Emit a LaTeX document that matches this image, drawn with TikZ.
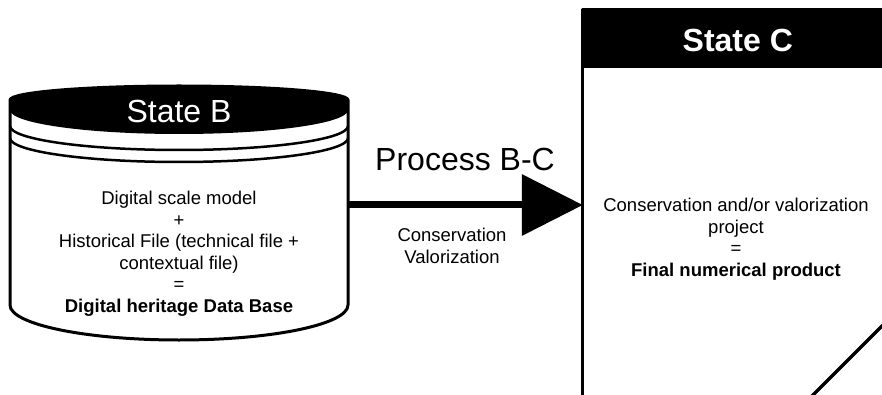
\documentclass[tikz,border=0pt]{standalone}
\usepackage{fontspec}
\setmainfont{Liberation Sans}
\usetikzlibrary{arrows.meta}
\tikzset{
  bodytxt/.style={align=center, inner sep=0pt, font=\fontsize{18.5}{21.5}\selectfont},
  titletxt/.style={inner sep=0pt, font=\fontsize{32}{36}\selectfont},
  outl/.style={line width=3pt, line join=round},
  band/.style={line width=2.5pt},
}
\begin{document}
\begin{tikzpicture}[x=1pt,y=-1pt]
\clip (0,0) rectangle (882,395);
% invisible frames used as anchors
\node[minimum width=338pt, minimum height=240pt, inner sep=0pt] (cylB) at (179,205) {};
\node[minimum width=307pt, minimum height=390pt, inner sep=0pt] (boxC) at (736.5,205) {};
% cylinder (State B)
\fill[black] (10,100) arc[start angle=180, end angle=0, x radius=169pt, y radius=14pt]
  -- (348,110) arc[start angle=0, end angle=-180, x radius=169pt, y radius=24pt] -- cycle;
\draw[band] (10,126) arc[start angle=180, end angle=360, x radius=169pt, y radius=24pt];
\draw[band] (10,138) arc[start angle=180, end angle=360, x radius=169pt, y radius=24pt];
\draw[outl] (348,100) arc[start angle=0, end angle=180, x radius=169pt, y radius=14pt]
  -- (10,305) arc[start angle=180, end angle=360, x radius=169pt, y radius=35pt] -- cycle;
\node[titletxt, text=white] (tB) at (179,111) {State B};
\node[bodytxt] (bodyB) at (179,254) {Digital scale model\\+\\Historical File (technical file +\\contextual file)\\=\\\textbf{Digital heritage Data Base}};
% box (State C)
\draw[outl] (boxC.north west) rectangle (boxC.south east);
\node[fill=black, draw=black, line width=3pt, minimum width=307pt, minimum height=55pt, anchor=north west, inner sep=0pt] (hdrC) at (boxC.north west) {};
\node[titletxt, text=white, font=\fontsize{32}{36}\selectfont\bfseries] (tC) at ([yshift=-2pt]hdrC.center) {State C};
\node[bodytxt] (bodyC) at (736,239) {Conservation and/or valorization\\project\\=\\\textbf{Final numerical product}};
% process arrow
\draw[line width=7pt, -{Triangle[length=61pt, width=60pt]}] (cylB.east) -- (boxC.west);
\node[titletxt, anchor=base] (pBC) at (465,171) {Process B-C};
\node[bodytxt] (lblBC) at (452,246) {Conservation\\Valorization};
% diagonal line fragment
\coordinate (d1) at (809,399);
\coordinate (d2) at (886,322);
\draw[line width=3.5pt] (d1) -- (d2);
\end{tikzpicture}
\end{document}
